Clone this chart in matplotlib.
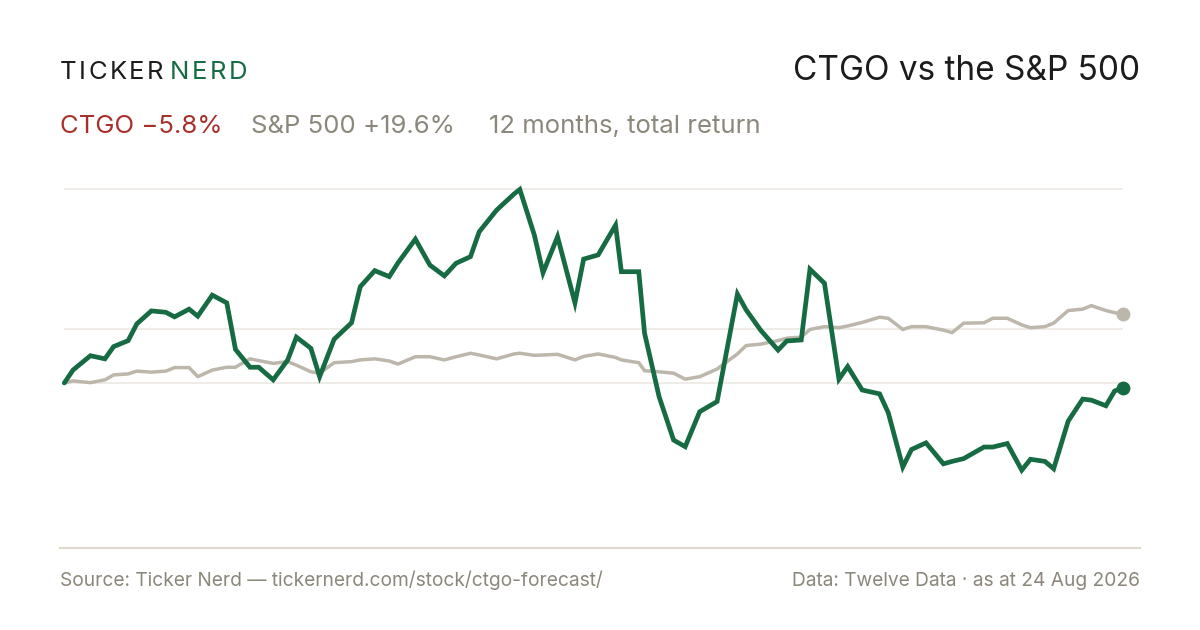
"""CTGO vs the S&P 500: 12-month total return, Ticker Nerd style card."""

import matplotlib

matplotlib.use("Agg")

import matplotlib.pyplot as plt
import pandas as pd
from matplotlib.lines import Line2D


# ---------------------------------------------------------------------------
# Data (percent change from the start)
# ---------------------------------------------------------------------------
START_DATE = "2025-08-24"

DAY_OFFSETS = [
    0, 3, 9, 14, 17, 22, 25, 30, 35, 38, 43, 46, 51, 56, 59, 64, 67, 72, 77, 80,
    85, 88, 93, 99, 102, 107, 112, 115, 121, 126, 131, 135, 140, 143, 149, 155,
    157, 162, 165, 170, 176, 179, 184, 190, 192, 198, 200, 205, 210, 214, 219,
    225, 232, 235, 240, 246, 249, 254, 257, 262, 267, 270, 275, 281, 284, 289,
    292, 297, 303, 306, 310, 317, 320, 325, 330, 333, 338, 341, 346, 351, 354,
    359, 362, 365,
]

CTGO_RETURN = [
    0.0, 3.7, 7.8, 6.9, 10.4, 12.1, 16.9, 20.6, 20.2, 18.9, 21.1, 19.1, 25.1,
    22.9, 9.6, 4.5, 4.5, 0.9, 6.6, 13.1, 9.9, 1.8, 12.5, 17.2, 27.5, 32.1, 30.4,
    34.3, 41.1, 33.7, 30.6, 34.2, 36.1, 43.2, 49.4, 54.0, 55.3, 42.3, 31.5, 41.8,
    22.9, 35.4, 36.6, 45.1, 31.8, 31.8, 14.2, -3.9, -16.3, -18.2, -8.2, -5.3,
    25.4, 20.9, 15.1, 9.4, 12.0, 12.3, 32.5, 28.5, 1.1, 4.7, -2.0, -3.1, -8.5,
    -24.0, -19.0, -17.1, -23.1, -22.4, -21.6, -18.3, -18.3, -17.3, -24.9, -21.8,
    -22.4, -24.5, -10.9, -4.6, -4.9, -6.5, -2.3, -1.3,
]

SPX_RETURN = [
    0.0, 0.6, 0.1, 0.9, 2.3, 2.6, 3.4, 3.1, 3.4, 4.4, 4.4, 1.8, 3.7, 4.5, 4.5,
    6.9, 6.4, 5.6, 6.1, 5.1, 3.2, 2.8, 5.8, 6.1, 6.6, 6.9, 6.3, 5.4, 7.5, 7.5,
    6.6, 7.5, 8.5, 8.0, 6.9, 8.3, 8.5, 7.9, 8.0, 8.2, 6.6, 7.6, 8.3, 7.3, 6.6,
    5.8, 3.5, 3.2, 2.8, 1.1, 1.8, 4.0, 8.3, 10.7, 11.1, 12.1, 12.8, 13.1, 15.3,
    16.1, 15.8, 16.3, 17.3, 18.8, 18.5, 15.3, 16.1, 16.1, 15.1, 14.4, 17.1, 17.2,
    18.5, 18.5, 16.6, 15.8, 16.1, 17.1, 20.7, 21.1, 22.1, 20.7, 20.1, 19.6,
]

GRID_LEVELS = [55.4, 15.4, 0.0]

BRAND_LEFT = "TICKER"
BRAND_RIGHT = "NERD"
TITLE = "CTGO vs the S&P 500"
SUBTITLE_PARTS = ["CTGO \u22125.8%", "S&P 500 +19.6%", "12 months, total return"]
SOURCE_TEXT = "Source: Ticker Nerd \u2014 tickernerd.com/stock/ctgo-forecast/"
DATA_TEXT = "Data: Twelve Data \u00b7 as at 24 Aug 2026"

# ---------------------------------------------------------------------------
# Style
# ---------------------------------------------------------------------------
WIDTH, HEIGHT = 1200, 630
FONT = ["Inter", "DejaVu Sans"]
DARK = "#1c1c1c"
GREEN = "#176b43"
RED = "#a8302b"
MUTED = "#8c877b"
SPX_COLOR = "#bdb6ab"
GRID_COLOR = "#ebe7e0"
RULE_COLOR = "#dedad0"


def fig_xy(x, y):
    """Convert pixel coordinates (origin top-left) to figure fractions."""
    return x / WIDTH, 1 - y / HEIGHT


def draw_tracked(figure, x, y, text, color, size, tracking):
    """Draw text letter by letter with extra spacing between characters."""
    renderer = figure.canvas.get_renderer()
    for character in text:
        label = figure.text(*fig_xy(x, y), character, color=color, fontsize=size,
                            family=FONT, va="baseline", ha="left")
        x += label.get_window_extent(renderer).width + tracking


def main():
    plt.rcParams["font.family"] = FONT
    figure = plt.figure(figsize=(WIDTH / 100, HEIGHT / 100), dpi=100, facecolor="white")

    dates = pd.to_datetime(START_DATE) + pd.to_timedelta(DAY_OFFSETS, unit="D")

    left, top = fig_xy(64.3, 180)
    _, bottom = fig_xy(0, 500)
    axis = figure.add_axes([left, bottom, 1059 / WIDTH, top - bottom])
    axis.set_xlim(dates[0], dates[-1])
    axis.set_ylim(-33.43, 58.0)
    axis.axis("off")

    for level in GRID_LEVELS:
        axis.axhline(level, color=GRID_COLOR, linewidth=1.1, zorder=0)

    axis.plot(dates, SPX_RETURN, color=SPX_COLOR, linewidth=2.5,
              solid_joinstyle="round", solid_capstyle="round", zorder=2, clip_on=False)
    axis.plot(dates, CTGO_RETURN, color=GREEN, linewidth=3.4,
              solid_joinstyle="miter", solid_capstyle="round", zorder=3, clip_on=False)
    axis.scatter([dates[-1]], [SPX_RETURN[-1]], s=80, color=SPX_COLOR, zorder=4, clip_on=False)
    axis.scatter([dates[-1]], [CTGO_RETURN[-1]], s=80, color=GREEN, zorder=5, clip_on=False)

    # Header (baselines placed to match the card)
    draw_tracked(figure, 60, 79, BRAND_LEFT, DARK, 18.5, 2.4)
    draw_tracked(figure, 170, 79, BRAND_RIGHT, GREEN, 18.5, 2.4)
    figure.text(*fig_xy(1140, 80), TITLE, color=DARK, fontsize=24,
                ha="right", va="baseline")

    subtitle_x = [60, 251, 489]
    subtitle_colors = [RED, MUTED, MUTED]
    for x, part, color in zip(subtitle_x, SUBTITLE_PARTS, subtitle_colors):
        figure.text(*fig_xy(x, 133), part, color=color, fontsize=18.5,
                    ha="left", va="baseline")

    # Footer
    rule_y = fig_xy(0, 548)[1]
    figure.add_artist(Line2D([60 / WIDTH, 1140 / WIDTH], [rule_y, rule_y],
                             color=RULE_COLOR, linewidth=1.5))
    figure.text(*fig_xy(60, 586), SOURCE_TEXT, color=MUTED, fontsize=13.8,
                ha="left", va="baseline")
    figure.text(*fig_xy(1140, 586), DATA_TEXT, color=MUTED, fontsize=13.8,
                ha="right", va="baseline")

    figure.savefig("out.png", dpi=100, facecolor="white")
    plt.close(figure)


if __name__ == "__main__":
    main()
